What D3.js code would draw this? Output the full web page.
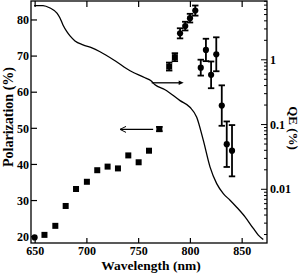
<!DOCTYPE html>
<html>
<head>
<meta charset="utf-8">
<title>polarization</title>
<script src="https://cdn.jsdelivr.net/npm/d3@7/dist/d3.min.js"></script>
<style>
  body { margin: 0; background: #fff; }
  text { font-family: "Liberation Serif", "Times New Roman", serif; font-weight: bold; fill: #000; }
</style>
</head>
<body>
<svg id="graph" width="301" height="273"></svg>
<script>
// QE curve (right axis, log)
const qeWave = [649, 657.6, 664.4, 671.1, 674, 676.9, 680.8, 683.7, 688.5, 696.2, 704.9, 712.7, 727.2, 741.7, 756.1, 761.9, 765.8, 775.5, 790, 799.6, 806.1, 812.5, 819, 825.4, 831.8, 838.3, 844.7, 852.8, 860.8, 865.6, 870.4]
const qeVal = [6.89, 6.89, 6.31, 5.28, 4.43, 3.45, 2.70, 2.34, 1.96, 1.70, 1.53, 1.33, 0.965, 0.677, 0.528, 0.475, 0.412, 0.345, 0.234, 0.185, 0.130, 0.0568, 0.0220, 0.01224, 0.00859, 0.00678, 0.00529, 0.00375, 0.00248, 0.00196, 0.00168]

// polarization, square markers
const sqWave = [659, 669.5, 679.5, 689.5, 700, 710, 720, 730, 740, 750, 760, 770, 779.5, 785]
const sqPol = [20.5, 23.0, 28.5, 33.2, 35.2, 38.4, 39.4, 38.9, 42.5, 40.6, 43.8, 49.8, 67.1, 69.7]
const sqErr = [0, 0, 0, 0, 0, 0, 0, 0, 0, 0, 0, 0.6, 1.1, 1.1]

// polarization, circle markers
const ciWave = [649.5, 790, 795, 799.6, 804.7, 810, 815, 820, 825, 830.3, 835.1, 840.2]
const ciPol = [19.8, 76.3, 78.3, 80.5, 82.6, 66.8, 71.7, 64.8, 70.5, 56.3, 45.6, 43.8]
const ciErr = [0, 1.4, 1.2, 1.2, 1.4, 2.2, 3.1, 3.7, 4.7, 5.6, 6.3, 7.1]

const xTicks = [650, 700, 750, 800, 850]
const yTicks = [20, 30, 40, 50, 60, 70, 80]
const qeTicks = [1, 0.1, 0.01]
const qeTickLabels = ["1", "0.1", "0.01"]

const svg = d3.select("#graph")
const L = 31, R = 267, T = 1, B = 243

const x = d3.scaleLinear().domain([646, 874]).range([L, R])
const y = d3.scaleLinear().domain([18.25, 85.25]).range([B, T])
const yq = d3.scaleLog().domain([0.00148, 8.1]).range([B, T])

// frame
svg.append("rect")
  .attr("x", L).attr("y", T).attr("width", R - L).attr("height", B - T)
  .attr("fill", "none").attr("stroke", "#000").attr("stroke-width", 1.3)

// x ticks bottom + top
for (let t of xTicks) {
  svg.append("line").attr("x1", x(t)).attr("x2", x(t)).attr("y1", B).attr("y2", B - 5)
    .attr("stroke", "#000").attr("stroke-width", 1.2)
  svg.append("line").attr("x1", x(t)).attr("x2", x(t)).attr("y1", T).attr("y2", T + 6)
    .attr("stroke", "#000").attr("stroke-width", 1.2)
  svg.append("text").attr("x", x(t)).attr("y", 255).attr("text-anchor", "middle")
    .style("font-size", "12px").text(t)
}

// left ticks
for (let t of yTicks) {
  svg.append("line").attr("x1", L).attr("x2", L + 6).attr("y1", y(t)).attr("y2", y(t))
    .attr("stroke", "#000").attr("stroke-width", 1.2)
  svg.append("text").attr("x", 29).attr("y", y(t) + 4.2).attr("text-anchor", "end")
    .style("font-size", "12px").text(t)
}

// right log ticks
let minor = []
for (let e = -3; e <= 0; e++) {
  for (let k = 1; k <= 9; k++) {
    let v = k * Math.pow(10, e)
    if (v >= 0.00148 && v <= 8.1) minor.push(v)
  }
}
svg.selectAll(".qminor").data(minor).enter().append("line")
  .attr("x1", R).attr("x2", d => qeTicks.some(m => Math.abs(m - d) < 1e-9) ? R - 6 : R - 3)
  .attr("y1", d => yq(d)).attr("y2", d => yq(d))
  .attr("stroke", "#000").attr("stroke-width", 1)
qeTicks.forEach((t, i) => {
  svg.append("text").attr("x", 270).attr("y", yq(t) + 4.2)
    .style("font-size", "12px").text(qeTickLabels[i])
})

// axis titles
svg.append("text").attr("x", (L + R) / 2 + 2).attr("y", 269.5).attr("text-anchor", "middle")
  .style("font-size", "13.5px").text("Wavelength (nm)")
svg.append("text").attr("transform", "translate(12.5,117) rotate(-90)").attr("text-anchor", "middle")
  .style("font-size", "14px").text("Polarization (%)")
svg.append("text").attr("transform", "translate(289,128) rotate(90)").attr("text-anchor", "middle")
  .style("font-size", "13px").text("QE (%)")

// QE curve
const qeData = qeWave.map((w, i) => [w, qeVal[i]])
svg.append("path").datum(qeData)
  .attr("d", d3.line().x(d => x(d[0])).y(d => yq(d[1])).curve(d3.curveMonotoneX))
  .attr("fill", "none").attr("stroke", "#000").attr("stroke-width", 1.3)

// error bars
function errBars(ws, ps, es) {
  ws.forEach((w, i) => {
    if (!es[i]) return
    let cx = x(w), y1 = y(ps[i] + es[i]), y2 = y(ps[i] - es[i])
    svg.append("line").attr("x1", cx).attr("x2", cx).attr("y1", y1).attr("y2", y2)
      .attr("stroke", "#000").attr("stroke-width", 1.8)
    for (let yy of [y1, y2]) {
      svg.append("line").attr("x1", cx - 3.2).attr("x2", cx + 3.2).attr("y1", yy).attr("y2", yy)
        .attr("stroke", "#000").attr("stroke-width", 1.8)
    }
  })
}
errBars(sqWave, sqPol, sqErr)
errBars(ciWave, ciPol, ciErr)

svg.selectAll(".sq").data(sqWave).enter().append("rect")
  .attr("x", d => x(d) - 3).attr("y", (d, i) => y(sqPol[i]) - 3)
  .attr("width", 6).attr("height", 6).attr("fill", "#000")

svg.selectAll(".ci").data(ciWave).enter().append("circle")
  .attr("cx", d => x(d)).attr("cy", (d, i) => y(ciPol[i])).attr("r", 3.1).attr("fill", "#000")

// arrows
const arrowL = [764, 732], arrowLPol = 49.7
svg.append("line").attr("x1", x(arrowL[0])).attr("x2", x(arrowL[1]))
  .attr("y1", y(arrowLPol)).attr("y2", y(arrowLPol)).attr("stroke", "#000").attr("stroke-width", 1.2)
svg.append("path")
  .attr("d", `M${x(arrowL[1]) + 6},${y(arrowLPol) - 3} L${x(arrowL[1])},${y(arrowLPol)} L${x(arrowL[1]) + 6},${y(arrowLPol) + 3}`)
  .attr("fill", "none").attr("stroke", "#000").attr("stroke-width", 1)

const arrowR = [762.6, 793.5], arrowRPol = 62.6
svg.append("line").attr("x1", x(arrowR[0])).attr("x2", x(arrowR[1]) - 3)
  .attr("y1", y(arrowRPol)).attr("y2", y(arrowRPol)).attr("stroke", "#000").attr("stroke-width", 1.3)
svg.append("path")
  .attr("d", `M${x(arrowR[1])},${y(arrowRPol)} L${x(arrowR[1]) - 5},${y(arrowRPol) - 2.2} L${x(arrowR[1]) - 5},${y(arrowRPol) + 2.2}Z`)
  .attr("fill", "#000")
</script>
</body>
</html>
